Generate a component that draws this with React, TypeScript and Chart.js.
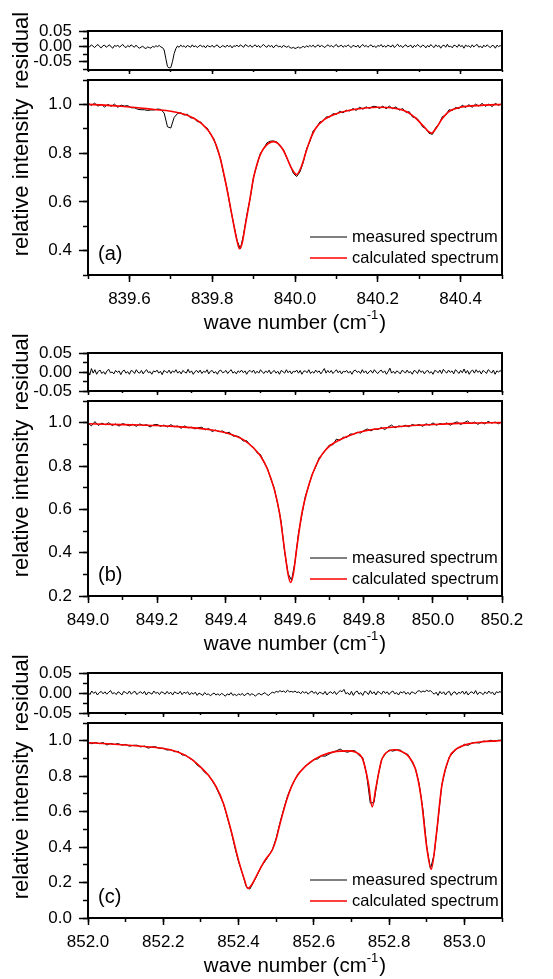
import React, { useEffect, useRef } from 'react';
import { Chart, registerables } from 'chart.js';

Chart.register(...registerables);

const FONT = '"Liberation Sans", Arial, Helvetica, sans-serif';

// ================= DATA =================
// ---- panel (a) ----
const gridStartA = 839.5;
const gridStepA = 0.008;
const measuredA = [1.005,.996,1.005,.993,1.000,.989,1.000,.992,1.001,.988,
.997,.993,.995,.986,.986,.980,.978,.978,.975,.977,
.977,.981,.979,.964,.908,.903,.946,.962,.966,.956,
.960,.944,.945,.929,.928,.910,.903,.877,.859,.817,
.778,.712,.653,.575,.508,.442,.407,.468,.550,.617,
.703,.750,.798,.817,.842,.849,.850,.846,.827,.815,
.780,.752,.717,.704,.723,.762,.818,.847,.892,.904,
.928,.932,.949,.949,.962,.959,.972,.965,.976,.973,
.983,.975,.989,.980,.990,.983,.992,.991,.983,.993,
.982,.993,.982,.990,.976,.983,.967,.970,.948,.946,
.933,.908,.901,.881,.877,.905,.920,.950,.955,.978,
.975,.988,.982,.997,.987,.999,.988,1.001,.993,1.004,
.992,1.001,.991,1.004,.996,1.003];
const resStepA = 0.004;
const residualA = [.003,-.002,.005,.001,-.004,.002,.006,-.001,-.005,.002,
.004,-.003,.001,.005,-.002,-.006,.003,.000,.004,-.003,
.002,.006,-.001,-.004,.003,-.002,.005,.001,-.003,.004,
-.002,-.006,-.003,.001,-.005,-.007,-.002,-.004,-.006,.000,
-.003,.002,-.001,.003,-.002,-.004,-.012,-.040,-.066,-.070,
-.069,-.050,-.024,-.008,.001,-.003,.004,-.001,.002,-.004,
.003,.000,-.003,.005,-.002,.002,-.004,.001,.004,-.002,
.002,-.005,.003,.000,-.002,.004,-.003,.001,.005,-.002,
-.004,.002,.001,-.003,.004,-.001,.003,-.005,.002,.000,
.004,-.002,.005,.001,-.003,.006,.002,-.001,.004,-.003,
.001,.005,-.002,.003,-.004,.002,.006,.000,-.003,.004,
-.001,.003,-.005,.002,.004,-.002,.001,-.004,.003,.000,
-.003,.001,-.004,-.006,-.003,-.007,-.005,-.002,-.006,-.003,
.000,-.004,.002,-.002,.003,-.001,.004,-.003,.001,.005,
-.002,.003,.000,-.004,.002,.005,-.001,.003,-.003,.002,
.006,-.002,.001,.004,-.003,.002,-.001,.005,.000,-.004,
.003,.001,-.002,.004,-.005,.002,.006,-.001,.003,-.003,
.002,.005,-.002,.001,-.004,.003,.000,.006,-.002,.002,
-.003,.004,.001,-.002,.005,-.004,.002,.007,-.001,.003,
-.004,.002,.005,-.002,.001,.004,-.005,.003,-.001,.006,
.001,-.003,.004,.002,-.005,.003,-.002,.006,.000,-.004,
.005,-.001,.003,-.006,.002,.004,-.003,.007,-.002,.001,
-.005,.004,.002,-.003,.006,-.001,.003,-.006,.004,.000,
.002,-.004,.005,-.002,.003,.006,-.003,.001,-.005,.004,
-.002,.005,.000,-.004,.003,.002,-.006,.004,-.001,.003,
-.003];
const calcWaveA = [839.50,839.54,839.58,839.62,839.66,839.70,839.74,839.77,839.79,839.80,
839.81,839.82,839.83,839.84,839.85,839.86,839.866,839.872,839.88,839.89,
839.90,839.91,839.92,839.93,839.948,839.96,839.97,839.98,839.99,840.004,
840.015,840.025,840.035,840.05,840.07,840.10,840.15,840.20,840.24,840.27,
840.29,840.31,840.322,840.330,840.34,840.355,840.37,840.40,840.45,840.50];
const calcA = [1.000,.997,.992,.986,.979,.972,.955,.927,.894,.868,
.831,.775,.700,.615,.524,.440,.408,.428,.505,.600,
.700,.765,.807,.831,.847,.838,.817,.783,.743,.712,
.743,.796,.848,.902,.937,.962,.981,.988,.984,.970,
.946,.911,.889,.882,.900,.940,.968,.988,.996,1.000];

// ---- panel (b) ----
const gridStartB = 849.0;
const gridStepB = 0.01;
const measuredB = [.998,.985,1.005,.987,.998,.990,1.000,.987,.994,.984,
.996,.991,.985,.993,.983,.994,.987,.991,.980,.990,
.992,.983,.989,.980,.991,.981,.985,.974,.985,.976,
.979,.971,.977,.979,.967,.973,.959,.966,.958,.962,
.951,.956,.938,.939,.933,.915,.917,.896,.886,.861,
.853,.818,.789,.740,.697,.622,.542,.403,.303,.273,
.357,.488,.575,.660,.710,.763,.795,.839,.854,.878,
.897,.898,.924,.918,.933,.931,.948,.946,.956,.952,
.964,.971,.962,.971,.968,.978,.968,.980,.989,.976,
.985,.981,.988,.981,.992,.986,.992,.983,.995,.988,
.999,.988,.996,.992,.999,.988,.998,1.004,.991,1.000,
1.008,.995,1.003,.992,1.002,.994,1.006,.998,1.003,.995,
1.005];
const resStepB = 0.005;
const residualB = [.004,-.008,.009,-.003,.006,-.006,.002,.005,-.004,.001,
-.006,.003,.007,-.002,.000,-.005,.004,-.001,.003,-.007,
.002,.005,-.003,.001,-.006,.004,.002,-.004,.006,-.001,
-.003,.004,-.005,.002,.006,-.002,.001,-.006,.003,.000,
.005,-.003,.002,-.007,.004,.001,-.002,.005,-.004,.003,
-.001,.006,-.003,.002,-.005,.004,.000,-.003,.007,-.002,
.003,-.006,.001,.004,-.002,.005,-.004,.002,-.001,.006,
-.005,.002,.004,-.003,.001,-.006,.003,.005,-.002,.000,
.004,-.004,.002,.006,-.003,.001,-.005,.003,-.001,.005,
-.002,.003,-.006,.002,.004,-.001,.005,-.004,.002,-.003,
.006,.000,-.004,.003,-.002,.005,-.005,.001,.004,-.003,
.002,-.006,.004,.001,-.003,.006,-.002,.003,-.005,.002,
.000,.005,-.003,.004,-.006,.002,.003,-.002,.006,-.004,
.001,-.003,.005,-.001,.003,-.005,.002,.009,-.003,.004,
-.002,.004,-.004,.001,.006,-.002,.003,-.005,.002,.000,
.004,-.003,.002,-.006,.003,.005,-.001,.002,-.004,.006,
-.002,.003,-.005,.001,.004,-.003,.006,.000,-.004,.002,
.005,-.002,.003,-.006,.001,.010,-.003,.002,-.004,.003,
.000,-.005,.004,.002,-.003,.005,-.002,.001,-.006,.004,
.002,-.004,.006,-.001,.003,-.005,.002,.004,-.003,.001,
-.006,.004,.002,-.002,.005,-.004,.007,.001,-.003,.005,
-.001,.003,-.005,.006,.002,-.004,.004,-.002,.008,-.003,
.004,-.006,.002,.005,-.003,.006,-.001,.003,-.005,.004,
.001,-.004,.006,.002,-.003,.005,-.006,.003,.000,.004,
-.002];
const calcWaveB = [849.00,849.05,849.10,849.15,849.20,849.25,849.30,849.34,849.38,849.42,
849.45,849.48,849.50,849.52,849.54,849.555,849.57,849.58,849.587,849.595,
849.605,849.62,849.64,849.66,849.68,849.70,849.73,849.77,849.82,849.88,
849.95,850.02,850.10,850.20];
const calcB = [.995,.993,.991,.989,.987,.983,.977,.970,.960,.943,
.922,.883,.846,.786,.692,.585,.410,.300,.263,.300,
.420,.582,.712,.800,.857,.892,.921,.948,.967,.979,
.988,.993,.998,1.000];

// ---- panel (c) ----
const gridStartC = 852.0;
const gridStepC = 0.01;
const measuredC = [.991,.983,.990,.983,.990,.976,.985,.979,.984,.975,
.979,.969,.974,.975,.965,.970,.958,.965,.966,.956,
.958,.947,.950,.938,.940,.920,.918,.900,.891,.862,
.848,.821,.807,.773,.739,.692,.646,.568,.492,.400,
.317,.253,.178,.163,.202,.243,.291,.318,.352,.387,
.450,.538,.615,.687,.740,.782,.819,.836,.863,.873,
.895,.897,.914,.913,.924,.936,.943,.953,.940,.935,
.944,.943,.917,.905,.813,.648,.652,.795,.893,.925,
.948,.941,.949,.947,.929,.923,.883,.843,.755,.611,
.403,.277,.362,.553,.750,.840,.908,.932,.957,.963,
.980,.974,.988,.989,.987,.998,.995,1.003,.996,1.003,
1.003];
const resStepC = 0.005;
const residualC = [.002,-.004,.005,-.001,.003,-.005,.001,.004,-.002,.003,
-.003,.002,.006,-.002,.001,-.004,.003,.000,-.005,.004,
.001,-.002,.005,-.003,.002,.004,-.004,.001,.003,-.002,
.004,-.005,.002,.000,-.003,.005,-.001,.002,-.004,.003,
.001,-.003,.004,-.002,.002,-.005,.003,.000,-.002,.004,
-.004,.002,-.001,.003,-.005,.001,-.003,.002,-.006,.000,
-.003,-.006,.001,-.004,-.002,-.007,-.003,.000,-.005,-.002,
-.006,-.001,-.004,-.008,-.002,-.005,.001,-.006,-.003,-.007,
-.002,-.005,-.001,-.007,-.003,.000,-.006,-.002,-.004,-.008,
-.003,-.001,-.005,-.002,.001,-.004,-.006,-.001,.002,.000,
.004,.002,.006,.003,.005,.001,.007,.003,.004,.002,
.005,.001,.003,-.002,.004,.000,.003,-.003,.002,.005,
-.001,.003,-.004,.002,.000,-.003,.004,-.005,.001,.003,
-.002,.004,-.004,.002,.006,.003,.009,-.002,.001,-.005,
.004,-.006,.002,.005,-.003,.001,-.006,.004,.002,-.004,
.006,-.002,.003,-.005,.004,.001,-.003,.005,-.001,.003,
-.004,.002,.005,-.002,.001,-.005,.003,.000,.004,-.003,
.002,-.004,.003,.001,-.002,.004,.006,.002,.005,.003,
.007,.004,.006,.001,-.003,.002,-.006,.004,-.002,.003,
-.005,.002,.004,-.006,.001,.003,-.004,.002,-.001,.005,
-.003,.004,-.005,.001,.003,-.002,.006,-.004,.002,.000,
-.004,.003,-.002,.005,-.001,.002,-.005,.003,.001,.004,
-.002];
const calcWaveC = [852.00,852.05,852.10,852.15,852.20,852.24,852.27,852.30,852.32,852.34,
852.36,852.38,852.40,852.415,852.425,852.435,852.45,852.47,852.49,852.50,
852.51,852.53,852.55,852.58,852.62,852.66,852.69,852.71,852.73,852.745,
852.755,852.765,852.78,852.80,852.815,852.83,852.85,852.87,852.885,852.90,
852.912,852.925,852.94,852.96,852.98,853.01,853.05,853.10];
const calcC = [.989,.983,.976,.967,.956,.935,.903,.850,.805,.742,
.645,.495,.325,.220,.166,.188,.248,.325,.385,.445,
.530,.680,.782,.860,.915,.940,.943,.936,.895,.760,
.627,.735,.890,.943,.949,.942,.916,.840,.680,.400,
.275,.460,.745,.905,.955,.981,.995,1.001];

// ---- axes / ticks / labels ----
const xRangeA = [839.5, 840.5];
const xRangeB = [849.0, 850.2];
const xRangeC = [852.0, 853.1];
const xMajorA = [839.6, 839.8, 840.0, 840.2, 840.4];
const xMinorA = [839.5, 839.6, 839.7, 839.8, 839.9, 840.0, 840.1, 840.2, 840.3, 840.4, 840.5];
const xMajorB = [849.0, 849.2, 849.4, 849.6, 849.8, 850.0, 850.2];
const xMinorB = [849.0, 849.1, 849.2, 849.3, 849.4, 849.5, 849.6, 849.7, 849.8, 849.9, 850.0, 850.1, 850.2];
const xMajorC = [852.0, 852.2, 852.4, 852.6, 852.8, 853.0];
const xMinorC = [852.0, 852.1, 852.2, 852.3, 852.4, 852.5, 852.6, 852.7, 852.8, 852.9, 853.0, 853.1];
const yRangeA = [0.3, 1.1];
const yRangeB = [0.2, 1.1];
const yRangeC = [0.0, 1.1];
const yMajorA = [0.4, 0.6, 0.8, 1.0];
const yMinorA = [0.3, 0.4, 0.5, 0.6, 0.7, 0.8, 0.9, 1.0, 1.1];
const yMajorB = [0.2, 0.4, 0.6, 0.8, 1.0];
const yMinorB = [0.2, 0.3, 0.4, 0.5, 0.6, 0.7, 0.8, 0.9, 1.0, 1.1];
const yMajorC = [0.0, 0.2, 0.4, 0.6, 0.8, 1.0];
const yMinorC = [0.0, 0.1, 0.2, 0.3, 0.4, 0.5, 0.6, 0.7, 0.8, 0.9, 1.0, 1.1];
const resRangeA = [-0.077, 0.05];
const resRangeBC = [-0.05, 0.05];
const resMajor = [-0.05, 0.0, 0.05];
const resMinorA = [-0.075, -0.05, -0.025, 0.0, 0.025, 0.05];
const resMinorBC = [-0.05, -0.025, 0.0, 0.025, 0.05];
const seriesLabels = ['measured spectrum', 'calculated spectrum'];
const panelLabels = ['(a)', '(b)', '(c)'];
const yTitles = ['residual', 'relative intensity'];
const xTitleParts = ['wave number (cm', '-1', ')'];

// ================= LAYOUT =================
const W = 553;
const H = 979;
const PLOT_L = 88;
const PLOT_R = 502;
const PAD_TOP = 26;
const RES_BOTTOM_H = 22;
const MAIN_BOTTOM_H = 68;
const frames = [
  { res: [31, 70], main: [80, 275] },
  { res: [353, 391], main: [401, 596] },
  { res: [673, 713], main: [723, 918] },
];

const gridSeries = (start: number, step: number, values: number[]) =>
  values.map((y, i) => ({ x: start + i * step, y }));
const pairSeries = (xs: number[], ys: number[]) => xs.map((x, i) => ({ x, y: ys[i] }));

type Spec = {
  kind: 'res' | 'main';
  plotTop: number;
  plotBottom: number;
  xRange: number[];
  xMajor: number[];
  xMinor: number[];
  yRange: number[];
  yMajor: number[];
  yMinor: number[];
  yDecimals: number;
  yTitle: string;
  datasets: any[];
  panelLabel?: string;
};

function decorPlugin(s: Spec) {
  return {
    id: 'decor',
    afterDraw(chart: any) {
      const { ctx, chartArea: a } = chart;
      ctx.save();
      ctx.strokeStyle = '#000';
      ctx.lineWidth = 2;
      ctx.strokeRect(a.left, a.top, a.right - a.left, a.bottom - a.top);
      if (s.kind === 'main') {
        // legend (measured first, calculated second)
        ctx.font = `16.5px ${FONT}`;
        ctx.textBaseline = 'middle';
        ctx.textAlign = 'left';
        const rows = [a.bottom - 38, a.bottom - 17];
        chart.data.datasets.forEach((ds: any, r: number) => {
          const y = rows[r];
          ctx.strokeStyle = ds.borderColor;
          ctx.lineWidth = ds.borderWidth;
          ctx.beginPath();
          ctx.moveTo(a.right - 192, y);
          ctx.lineTo(a.right - 155, y);
          ctx.stroke();
          ctx.fillStyle = '#000';
          ctx.fillText(ds.label, a.right - 150, y);
        });
        // panel label
        if (s.panelLabel) {
          ctx.font = `20px ${FONT}`;
          ctx.fillText(s.panelLabel, a.left + 10, a.bottom - 21);
        }
        // x title with superscript
        const big = `20.5px ${FONT}`;
        const small = `13px ${FONT}`;
        ctx.font = big;
        const w1 = ctx.measureText(xTitleParts[0]).width;
        const w3 = ctx.measureText(xTitleParts[2]).width;
        ctx.font = small;
        const w2 = ctx.measureText(xTitleParts[1]).width;
        const total = w1 + w2 + w3 + 1;
        let x = (a.left + a.right) / 2 - total / 2;
        const y = a.bottom + 48;
        ctx.font = big;
        ctx.fillText(xTitleParts[0], x, y);
        x += w1;
        ctx.font = small;
        ctx.fillText(xTitleParts[1], x, y - 8);
        x += w2 + 1;
        ctx.font = big;
        ctx.fillText(xTitleParts[2], x, y);
      }
      ctx.restore();
    },
  };
}

function buildConfig(s: Spec, bottomH: number): any {
  const setTicks = (vals: number[]) => (scale: any) => {
    scale.ticks = vals.map((v) => ({ value: v }));
  };
  const tickFont = { family: FONT, size: 17 };
  const isMain = s.kind === 'main';
  return {
    type: 'line',
    data: { datasets: s.datasets },
    options: {
      animation: false,
      responsive: false,
      maintainAspectRatio: false,
      devicePixelRatio: 1,
      events: [],
      layout: { padding: { left: 0, right: W - PLOT_R, top: PAD_TOP, bottom: 0 }, autoPadding: false },
      plugins: { legend: { display: false }, tooltip: { enabled: false }, title: { display: false } },
      elements: { point: { radius: 0, hoverRadius: 0 } },
      scales: {
        x: {
          type: 'linear', axis: 'x', position: 'bottom', weight: 1, bounds: 'data',
          min: s.xRange[0], max: s.xRange[1],
          afterBuildTicks: setTicks(s.xMajor),
          afterFit: (sc: any) => { sc.height = bottomH; },
          grid: { drawOnChartArea: false, drawTicks: true, tickLength: isMain ? 7 : 4, tickWidth: 1.5, tickColor: '#000' },
          border: { display: false },
          ticks: {
            display: isMain, padding: 7, color: '#000', font: tickFont, maxRotation: 0, minRotation: 0, autoSkip: false,
            callback: (v: any) => Number(v).toFixed(1),
          },
        },
        xMinor: {
          type: 'linear', axis: 'x', position: 'bottom', weight: 0, bounds: 'data',
          min: s.xRange[0], max: s.xRange[1],
          afterBuildTicks: setTicks(s.xMinor),
          afterFit: (sc: any) => { sc.height = 0; },
          grid: { drawOnChartArea: false, drawTicks: true, tickLength: isMain ? 4 : 2, tickWidth: 1.5, tickColor: '#000' },
          border: { display: false },
          ticks: { display: false, autoSkip: false },
        },
        y: {
          type: 'linear', axis: 'y', position: 'left', weight: 1, bounds: 'data',
          min: s.yRange[0], max: s.yRange[1],
          afterBuildTicks: setTicks(s.yMajor),
          afterFit: (sc: any) => { sc.width = PLOT_L; },
          grid: { drawOnChartArea: false, drawTicks: true, tickLength: 9, tickWidth: 1.5, tickColor: '#000' },
          border: { display: false },
          ticks: {
            padding: 7, color: '#000', font: tickFont, autoSkip: false,
            callback: (v: any) => Number(v).toFixed(s.yDecimals),
          },
          title: { display: true, text: s.yTitle, color: '#000', font: { family: FONT, size: 22 }, padding: { top: 9, bottom: 0 } },
        },
        yMinor: {
          type: 'linear', axis: 'y', position: 'left', weight: 0, bounds: 'data',
          min: s.yRange[0], max: s.yRange[1],
          afterBuildTicks: setTicks(s.yMinor),
          afterFit: (sc: any) => { sc.width = 0; },
          grid: { drawOnChartArea: false, drawTicks: true, tickLength: 5, tickWidth: 1.5, tickColor: '#000' },
          border: { display: false },
          ticks: { display: false, autoSkip: false },
        },
      },
    },
    plugins: [decorPlugin(s)],
  };
}

function SubChart({ spec }: { spec: Spec }) {
  const ref = useRef<HTMLCanvasElement>(null);
  const bottomH = spec.kind === 'main' ? MAIN_BOTTOM_H : RES_BOTTOM_H;
  const canvasTop = spec.plotTop - PAD_TOP;
  const canvasH = PAD_TOP + (spec.plotBottom - spec.plotTop) + bottomH;
  useEffect(() => {
    const chart = new Chart(ref.current as HTMLCanvasElement, buildConfig(spec, bottomH));
    return () => chart.destroy();
  }, []);
  return (
    <canvas
      ref={ref}
      width={W}
      height={canvasH}
      style={{ position: 'absolute', left: 0, top: canvasTop, width: W, height: canvasH, display: 'block' }}
    />
  );
}

const mainSet = (measured: any[], calc: any[]) => [
  { label: seriesLabels[0], data: measured, borderColor: '#000000', borderWidth: 1, order: 1, tension: 0, pointRadius: 0, xAxisID: 'x', yAxisID: 'y' },
  { label: seriesLabels[1], data: calc, borderColor: '#ff0000', borderWidth: 1.6, order: 0, cubicInterpolationMode: 'monotone', pointRadius: 0, xAxisID: 'x', yAxisID: 'y' },
];
const resSet = (res: any[]) => [
  { label: yTitles[0], data: res, borderColor: '#000000', borderWidth: 1, tension: 0, pointRadius: 0, xAxisID: 'x', yAxisID: 'y' },
];

const panelData = [
  { start: gridStartA, step: gridStepA, measured: measuredA, resStep: resStepA, residual: residualA, cw: calcWaveA, c: calcA,
    xRange: xRangeA, xMajor: xMajorA, xMinor: xMinorA, yRange: yRangeA, yMajor: yMajorA, yMinor: yMinorA,
    resRange: resRangeA, resMinor: resMinorA },
  { start: gridStartB, step: gridStepB, measured: measuredB, resStep: resStepB, residual: residualB, cw: calcWaveB, c: calcB,
    xRange: xRangeB, xMajor: xMajorB, xMinor: xMinorB, yRange: yRangeB, yMajor: yMajorB, yMinor: yMinorB,
    resRange: resRangeBC, resMinor: resMinorBC },
  { start: gridStartC, step: gridStepC, measured: measuredC, resStep: resStepC, residual: residualC, cw: calcWaveC, c: calcC,
    xRange: xRangeC, xMajor: xMajorC, xMinor: xMinorC, yRange: yRangeC, yMajor: yMajorC, yMinor: yMinorC,
    resRange: resRangeBC, resMinor: resMinorBC },
];

const specs: Spec[] = [];
panelData.forEach((p, i) => {
  specs.push({
    kind: 'res', plotTop: frames[i].res[0], plotBottom: frames[i].res[1],
    xRange: p.xRange, xMajor: p.xMajor, xMinor: p.xMinor,
    yRange: p.resRange, yMajor: resMajor, yMinor: p.resMinor, yDecimals: 2, yTitle: yTitles[0],
    datasets: resSet(gridSeries(p.start, p.resStep, p.residual)),
  });
  specs.push({
    kind: 'main', plotTop: frames[i].main[0], plotBottom: frames[i].main[1],
    xRange: p.xRange, xMajor: p.xMajor, xMinor: p.xMinor,
    yRange: p.yRange, yMajor: p.yMajor, yMinor: p.yMinor, yDecimals: 1, yTitle: yTitles[1],
    datasets: mainSet(gridSeries(p.start, p.step, p.measured), pairSeries(p.cw, p.c)),
    panelLabel: panelLabels[i],
  });
});

export default function App() {
  return (
    <div style={{ position: 'absolute', left: 0, top: 0, width: W, height: H, overflow: 'hidden', background: '#ffffff' }}>
      {specs.map((s, i) => (
        <SubChart key={i} spec={s} />
      ))}
    </div>
  );
}
